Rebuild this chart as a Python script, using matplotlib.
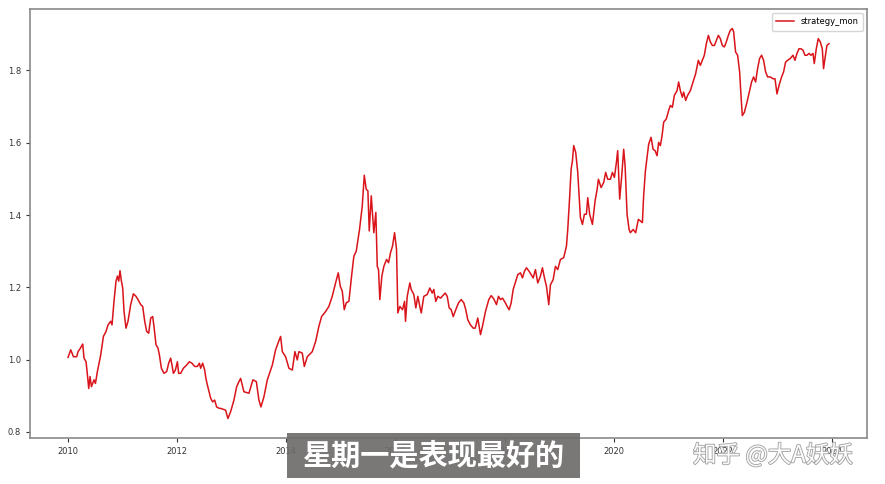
import matplotlib
matplotlib.use("Agg")
import matplotlib.pyplot as plt
import matplotlib.patheffects as pe
import matplotlib.dates as mdates
import pandas as pd
import numpy as np

plt.rcParams['font.family'] = ['DejaVu Sans', 'Noto Sans CJK SC']

series_name = "strategy_mon"

# decimal-year offsets from 2010-01-01
year_offsets = [
    0.000, 0.049, 0.099, 0.159, 0.183, 0.220, 0.269, 0.293, 0.330, 0.355,
    0.379, 0.403, 0.429, 0.476, 0.502, 0.538, 0.599, 0.648, 0.696, 0.733,
    0.782, 0.806, 0.842, 0.879, 0.905, 0.929, 0.952, 0.978, 1.002, 1.026,
    1.062, 1.099, 1.148, 1.198, 1.245, 1.282, 1.332, 1.368, 1.405, 1.441,
    1.478, 1.515, 1.551, 1.575, 1.612, 1.648, 1.674, 1.711, 1.758, 1.808,
    1.844, 1.881, 1.905, 1.930, 1.967, 2.004, 2.027, 2.064, 2.114, 2.174,
    2.223, 2.271, 2.321, 2.370, 2.407, 2.430, 2.467, 2.504, 2.527, 2.553,
    2.590, 2.614, 2.650, 2.687, 2.723, 2.773, 2.797, 2.888, 2.930, 2.980,
    3.040, 3.090, 3.132, 3.163, 3.223, 3.315, 3.388, 3.451, 3.498, 3.535,
    3.590, 3.652, 3.744, 3.804, 3.859, 3.896, 3.927, 3.987, 4.048, 4.110,
    4.158, 4.201, 4.231, 4.293, 4.330, 4.385, 4.476, 4.537, 4.597, 4.647,
    4.720, 4.780, 4.842, 4.903, 4.952, 4.989, 5.026, 5.062, 5.099, 5.147,
    5.196, 5.238, 5.282, 5.342, 5.392, 5.429, 5.465, 5.495, 5.520, 5.557,
    5.604, 5.641, 5.667, 5.690, 5.714, 5.751, 5.788, 5.837, 5.874, 5.910,
    5.947, 5.984, 6.020, 6.044, 6.081, 6.130, 6.167, 6.185, 6.216, 6.264,
    6.289, 6.337, 6.374, 6.410, 6.447, 6.473, 6.520, 6.582, 6.630, 6.674,
    6.703, 6.740, 6.777, 6.826, 6.912, 6.949, 6.985, 7.022, 7.059, 7.106,
    7.156, 7.205, 7.253, 7.289, 7.326, 7.375, 7.425, 7.462, 7.509, 7.559,
    7.595, 7.650, 7.711, 7.755, 7.802, 7.852, 7.888, 7.925, 7.962, 8.011,
    8.048, 8.084, 8.121, 8.158, 8.205, 8.242, 8.291, 8.328, 8.364, 8.401,
    8.451, 8.524, 8.566, 8.608, 8.658, 8.694, 8.731, 8.768, 8.810, 8.841,
    8.890, 8.932, 8.974, 9.024, 9.084, 9.134, 9.158, 9.194, 9.220, 9.244,
    9.267, 9.304, 9.341, 9.366, 9.390, 9.427, 9.463, 9.500, 9.524, 9.560,
    9.610, 9.659, 9.696, 9.720, 9.769, 9.817, 9.853, 9.890, 9.940, 9.976,
    10.013, 10.050, 10.073, 10.110, 10.147, 10.183, 10.209, 10.245, 10.282, 10.306,
    10.355, 10.403, 10.452, 10.526, 10.549, 10.581, 10.641, 10.685, 10.722, 10.758,
    10.795, 10.824, 10.855, 10.886, 10.916, 10.965, 11.007, 11.038, 11.075, 11.112,
    11.161, 11.190, 11.222, 11.258, 11.282, 11.319, 11.355, 11.405, 11.454, 11.502,
    11.551, 11.588, 11.625, 11.661, 11.698, 11.735, 11.771, 11.808, 11.845, 11.881,
    11.918, 11.954, 11.991, 12.028, 12.064, 12.101, 12.137, 12.174, 12.198, 12.234,
    12.271, 12.308, 12.333, 12.357, 12.394, 12.443, 12.491, 12.527, 12.564, 12.601,
    12.637, 12.674, 12.711, 12.747, 12.784, 12.821, 12.870, 12.919, 12.956, 12.993,
    13.029, 13.077, 13.114, 13.150, 13.187, 13.236, 13.286, 13.322, 13.359, 13.396,
    13.432, 13.469, 13.505, 13.542, 13.579, 13.615, 13.652, 13.676, 13.713, 13.749,
    13.786, 13.823, 13.846, 13.872, 13.908, 13.945,
]

strategy_mon = [
    1.006, 1.027, 1.008, 1.008, 1.022, 1.030, 1.043, 1.004, 0.994, 0.958,
    0.920, 0.953, 0.925, 0.944, 0.934, 0.967, 1.013, 1.064, 1.078, 1.096,
    1.106, 1.096, 1.161, 1.217, 1.231, 1.217, 1.246, 1.217, 1.198, 1.133,
    1.087, 1.106, 1.152, 1.182, 1.175, 1.166, 1.152, 1.147, 1.106, 1.078,
    1.073, 1.115, 1.119, 1.092, 1.041, 1.032, 1.013, 0.976, 0.962, 0.967,
    0.990, 1.004, 0.985, 0.962, 0.971, 0.994, 0.962, 0.962, 0.976, 0.985,
    0.994, 0.990, 0.981, 0.981, 0.990, 0.976, 0.990, 0.971, 0.948, 0.930,
    0.907, 0.893, 0.883, 0.888, 0.869, 0.865, 0.865, 0.860, 0.837, 0.856,
    0.888, 0.925, 0.939, 0.948, 0.911, 0.907, 0.944, 0.939, 0.888, 0.869,
    0.897, 0.944, 0.985, 1.027, 1.050, 1.064, 1.022, 1.008, 0.976, 0.971,
    1.022, 0.999, 1.022, 1.018, 0.981, 1.008, 1.022, 1.050, 1.092, 1.119,
    1.133, 1.147, 1.175, 1.212, 1.240, 1.203, 1.189, 1.138, 1.157, 1.161,
    1.231, 1.286, 1.300, 1.360, 1.425, 1.510, 1.471, 1.467, 1.356, 1.453,
    1.351, 1.407, 1.258, 1.249, 1.166, 1.231, 1.258, 1.277, 1.268, 1.296,
    1.314, 1.351, 1.305, 1.129, 1.147, 1.138, 1.161, 1.106, 1.175, 1.212,
    1.194, 1.180, 1.143, 1.175, 1.147, 1.129, 1.175, 1.180, 1.198, 1.184,
    1.194, 1.161, 1.175, 1.170, 1.184, 1.175, 1.143, 1.138, 1.119, 1.138,
    1.157, 1.166, 1.157, 1.138, 1.110, 1.096, 1.087, 1.087, 1.115, 1.069,
    1.092, 1.133, 1.166, 1.177, 1.168, 1.152, 1.175, 1.166, 1.170, 1.158,
    1.147, 1.138, 1.157, 1.194, 1.217, 1.235, 1.240, 1.226, 1.244, 1.254,
    1.244, 1.226, 1.249, 1.212, 1.231, 1.254, 1.226, 1.203, 1.152, 1.207,
    1.221, 1.258, 1.249, 1.277, 1.282, 1.314, 1.360, 1.453, 1.527, 1.550,
    1.592, 1.573, 1.518, 1.453, 1.393, 1.374, 1.402, 1.402, 1.448, 1.402,
    1.374, 1.439, 1.471, 1.499, 1.476, 1.490, 1.518, 1.499, 1.499, 1.518,
    1.504, 1.546, 1.578, 1.444, 1.508, 1.582, 1.536, 1.402, 1.360, 1.351,
    1.360, 1.351, 1.388, 1.379, 1.453, 1.522, 1.596, 1.615, 1.582, 1.578,
    1.564, 1.601, 1.592, 1.619, 1.657, 1.666, 1.689, 1.703, 1.698, 1.731,
    1.744, 1.768, 1.744, 1.726, 1.740, 1.717, 1.731, 1.744, 1.768, 1.791,
    1.828, 1.814, 1.828, 1.842, 1.874, 1.897, 1.879, 1.869, 1.869, 1.883,
    1.897, 1.888, 1.869, 1.865, 1.879, 1.897, 1.911, 1.916, 1.907, 1.851,
    1.842, 1.796, 1.731, 1.675, 1.684, 1.712, 1.744, 1.768, 1.782, 1.768,
    1.805, 1.833, 1.842, 1.828, 1.796, 1.782, 1.782, 1.777, 1.777, 1.735,
    1.758, 1.782, 1.796, 1.823, 1.828, 1.833, 1.842, 1.828, 1.847, 1.860,
    1.860, 1.856, 1.842, 1.842, 1.847, 1.842, 1.847, 1.819, 1.860, 1.888,
    1.879, 1.860, 1.805, 1.833, 1.869, 1.874,
]

x_tick_years = [2010, 2012, 2014, 2016, 2018, 2020, 2022, 2024]
y_ticks = [0.8, 1.0, 1.2, 1.4, 1.6, 1.8]

caption = "星期一是表现最好的"
watermark = "知乎 @大A妖妖"

dates = pd.Timestamp("2010-01-01") + pd.to_timedelta(np.array(year_offsets) * 365.25, unit="D")

fig = plt.figure(figsize=(8.85, 4.84), dpi=100)
ax = fig.add_axes([30 / 885, 46 / 484, 837 / 885, 429 / 484])
ax.plot(dates, strategy_mon, color="#d9141a", linewidth=1.1, label=series_name)

ax.set_xticks([pd.Timestamp(f"{y}-01-01") for y in x_tick_years])
ax.xaxis.set_major_formatter(mdates.DateFormatter("%Y"))
ax.set_yticks(y_ticks)
ax.tick_params(labelsize=6, colors="#333333", length=3, width=0.8)
for s in ax.spines.values():
    s.set_color("#8a8a8a")
    s.set_linewidth(1.2)

leg = ax.legend(loc="upper right", fontsize=6, frameon=True, handlelength=2.2,
                borderpad=0.5, fancybox=True)
leg.get_frame().set_edgecolor("#cccccc")

# caption overlay
fig.patches.append(matplotlib.patches.Rectangle(
    (287 / 885, 1 - 478 / 484), 293 / 885, 45 / 484, transform=fig.transFigure,
    facecolor="#6f6b6b", edgecolor="none", alpha=0.92, zorder=10))
fig.text(434 / 885, 1 - 456 / 484, caption, color="white", fontsize=21,
         fontweight="black", ha="center", va="center", zorder=11,
         family=["Noto Sans CJK SC", "DejaVu Sans"])

# watermark
fig.text(773 / 885, 1 - 455 / 484, watermark, color="white", fontsize=17,
         ha="center", va="center", zorder=11, alpha=0.95,
         family=["Noto Sans CJK SC", "DejaVu Sans"],
         path_effects=[pe.withStroke(linewidth=1.2, foreground="#9a9a9a")])

fig.savefig("out.png", dpi=100)
